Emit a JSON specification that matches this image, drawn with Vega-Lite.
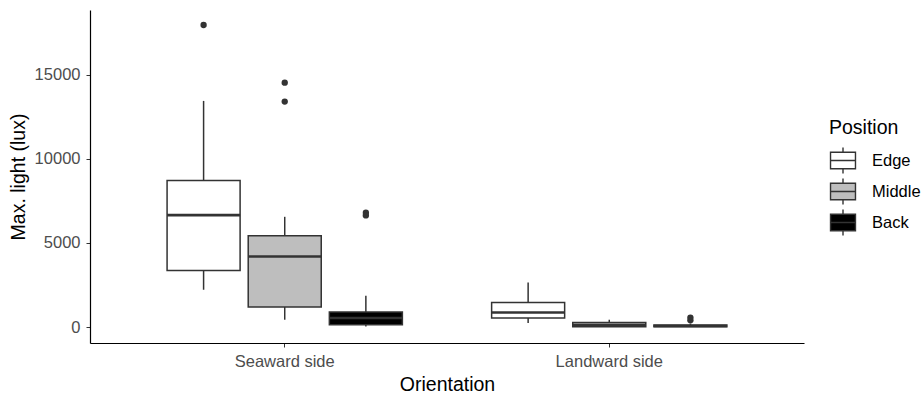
{
  "$schema": "https://vega.github.io/schema/vega-lite/v6.json",
  "width": 714,
  "height": 333,
  "autosize": {"type": "none"},
  "padding": {"left": 90, "top": 10, "right": 117, "bottom": 54},
  "background": "white",
  "config": {
    "view": {"stroke": null},
    "font": "Liberation Sans"
  },
  "datasets": {
    "stats": [
      {"Orientation": "Seaward side", "Position": "Edge", "lower": 2218, "q1": 3365, "median": 6659, "q3": 8716, "upper": 13454},
      {"Orientation": "Seaward side", "Position": "Middle", "lower": 434, "q1": 1189, "median": 4198, "q3": 5428, "upper": 6558},
      {"Orientation": "Seaward side", "Position": "Back", "lower": 30, "q1": 137, "median": 535, "q3": 892, "upper": 1861},
      {"Orientation": "Landward side", "Position": "Edge", "lower": 238, "q1": 535, "median": 868, "q3": 1463, "upper": 2652},
      {"Orientation": "Landward side", "Position": "Middle", "lower": 0, "q1": 15, "median": 110, "q3": 274, "upper": 434},
      {"Orientation": "Landward side", "Position": "Back", "lower": 0, "q1": 10, "median": 60, "q3": 120, "upper": 200}
    ],
    "outliers": [
      {"Orientation": "Seaward side", "Position": "Edge", "value": 17973},
      {"Orientation": "Seaward side", "Position": "Middle", "value": 14542},
      {"Orientation": "Seaward side", "Position": "Middle", "value": 13413},
      {"Orientation": "Seaward side", "Position": "Back", "value": 6800},
      {"Orientation": "Seaward side", "Position": "Back", "value": 6640},
      {"Orientation": "Landward side", "Position": "Back", "value": 560},
      {"Orientation": "Landward side", "Position": "Back", "value": 400}
    ]
  },
  "encoding": {
    "x": {
      "field": "Orientation",
      "type": "nominal",
      "sort": ["Seaward side", "Landward side"],
      "scale": {"domain": ["Seaward side", "Landward side"], "paddingInner": 0.25, "paddingOuter": 0.225},
      "axis": {
        "title": "Orientation",
        "labelAngle": 0,
        "labelFontSize": 16.5,
        "labelColor": "#4D4D4D",
        "labelPadding": 6,
        "tickColor": "#333333",
        "tickSize": 4,
        "domainColor": "black",
        "domainWidth": 1.2,
        "titleFontSize": 19.5,
        "titleFontWeight": "normal",
        "titleColor": "black",
        "titlePadding": 6
      }
    },
    "xOffset": {
      "field": "Position",
      "type": "nominal",
      "sort": ["Edge", "Middle", "Back"],
      "scale": {"domain": ["Edge", "Middle", "Back"], "paddingInner": 0.1, "paddingOuter": 0.05}
    }
  },
  "layer": [
    {
      "data": {"name": "stats"},
      "mark": {"type": "rule", "color": "#333333", "strokeWidth": 1.5},
      "encoding": {
        "y": {
          "field": "lower",
          "type": "quantitative",
          "scale": {"domain": [-951, 18864], "nice": false, "zero": false},
          "axis": {
            "title": "Max. light (lux)",
            "values": [0, 5000, 10000, 15000],
            "format": "d",
            "grid": false,
            "labelFontSize": 16.5,
            "labelColor": "#4D4D4D",
            "labelPadding": 6,
            "tickColor": "#333333",
            "tickSize": 4,
            "domainColor": "black",
            "domainWidth": 1.2,
            "titleFontSize": 19.5,
            "titleFontWeight": "normal",
            "titleColor": "black",
            "titlePadding": 6
          }
        },
        "y2": {"field": "upper"}
      }
    },
    {
      "data": {"name": "stats"},
      "mark": {"type": "bar", "stroke": "#333333", "strokeWidth": 1.5},
      "encoding": {
        "y": {"field": "q3", "type": "quantitative"},
        "y2": {"field": "q1"},
        "fill": {
          "field": "Position",
          "type": "nominal",
          "sort": ["Edge", "Middle", "Back"],
          "scale": {"domain": ["Edge", "Middle", "Back"], "range": ["#FFFFFF", "#BEBEBE", "#000000"]},
          "legend": {
            "title": "Position",
            "orient": "none",
            "legendX": 739,
            "legendY": 109,
            "titleFontSize": 19.5,
            "titleFontWeight": "normal",
            "titleColor": "black",
            "titlePadding": 8,
            "labelFontSize": 16.5,
            "labelColor": "black",
            "labelOffset": 15,
            "symbolType": "M-0.96,-0.64H0.96V0.64H-0.96Z M-0.96,0H0.96 M0,-0.64V-1 M0,0.64V1",
            "symbolSize": 676,
            "symbolStrokeColor": "#333333",
            "symbolStrokeWidth": 1.4,
            "symbolOpacity": 1,
            "rowPadding": -1
          }
        }
      }
    },
    {
      "data": {"name": "stats"},
      "mark": {"type": "tick", "orient": "horizontal", "color": "#333333", "size": 73, "thickness": 2.6, "opacity": 1},
      "encoding": {
        "y": {"field": "median", "type": "quantitative"}
      }
    },
    {
      "data": {"name": "outliers"},
      "mark": {"type": "point", "filled": true, "color": "#333333", "size": 40, "opacity": 1},
      "encoding": {
        "y": {"field": "value", "type": "quantitative"}
      }
    }
  ]
}
